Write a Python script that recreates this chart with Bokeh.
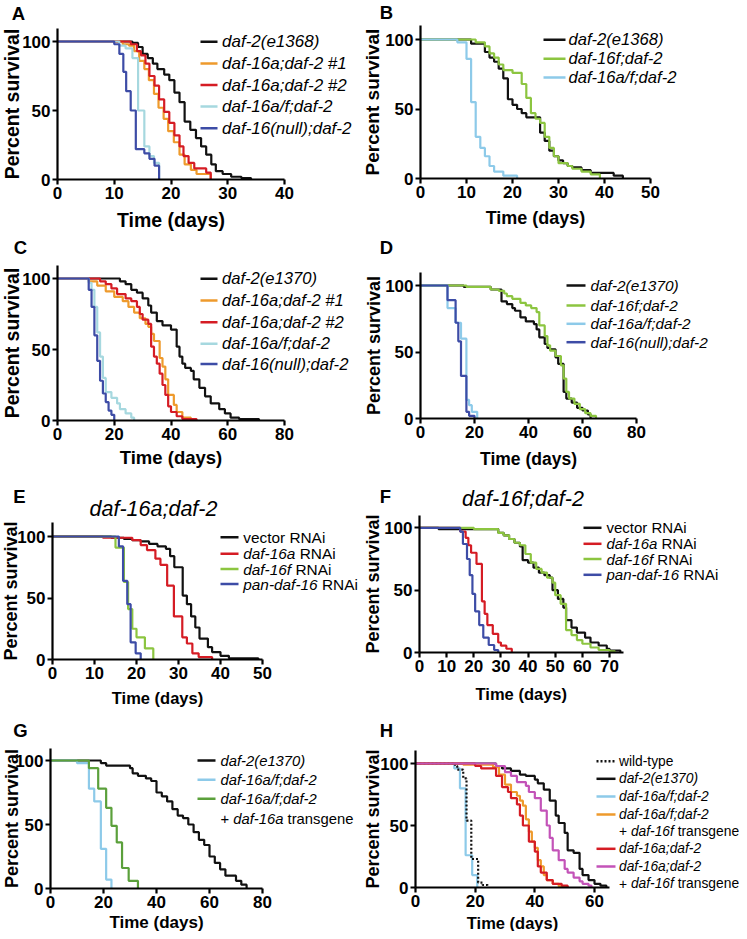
import math
from bokeh.plotting import figure
from bokeh.models import Range1d, FixedTicker, Label, LinearAxis
from bokeh.layouts import row, column
from bokeh.embed import file_html
from bokeh.resources import INLINE

FONT = "Liberation Sans"

BLACK = "#111111"
ORANGE = "#EE9A2C"
RED = "#D51C24"
PALE = "#A6D8DF"
SKY = "#8DCAE9"
NAVY = "#3D4CA6"
LIME = "#8CC540"
GREEN = "#5BA03B"
PURPLE = "#C353B8"

# ---------------- data (time in days, percent survival) ----------------
# Panel A
a_black_t = [0, 13.2, 14.2, 15.0, 15.9, 16.8, 17.6, 18.8, 19.7, 20.6, 21.5, 22.4, 23.4, 24.4, 25.3, 26.2, 27.1, 27.9, 29.1, 30.6, 32.4, 34.1]
a_black_s = [100, 99, 96, 91, 88, 84, 80, 76, 72, 63, 56, 42, 36, 30, 24, 18, 11, 6, 4, 2, 1, 0]
a_or_t = [0, 11.5, 12.6, 13.5, 14.4, 15.3, 16.1, 17.0, 17.8, 18.7, 19.5, 20.5, 21.5, 22.4, 23.5, 24.5, 27.0]
a_or_s = [100, 98, 97, 93, 86, 80, 72, 62, 52, 44, 35, 27, 18, 11, 7, 4, 0]
a_red_t = [0, 12.9, 14.0, 14.7, 15.5, 16.2, 17.1, 17.9, 18.8, 19.7, 20.6, 21.5, 22.2, 23.1, 24.1, 26.2, 27.0]
a_red_s = [100, 98, 93, 90, 84, 75, 68, 58, 49, 41, 32, 24, 17, 12, 8, 5, 0]
a_pale_t = [0, 10.9, 12.0, 13.2, 14.2, 15.3, 16.2, 17.0, 17.9]
a_pale_s = [100, 97, 95, 88, 50, 24, 17, 12, 0]
a_navy_t = [0, 10.0, 10.9, 11.6, 12.1, 12.9, 13.8, 15.3, 16.2, 17.1, 17.9]
a_navy_s = [100, 98, 91, 78, 64, 50, 22, 19, 15, 10, 0]
a_labels = ["daf-2(e1368)", "daf-16a;daf-2 #1", "daf-16a;daf-2 #2", "daf-16a/f;daf-2", "daf-16(null);daf-2"]

# Panel B
b_black_t = [0, 11, 14, 15, 16, 17, 18, 19, 20, 21, 22, 23, 26, 27, 28, 29, 30, 31, 32, 33, 35, 37, 42, 44]
b_black_s = [100, 97, 91, 87, 84, 79, 72, 57, 53, 50, 47, 44, 33, 27, 20, 16, 13, 11, 9, 8, 6, 4, 2, 0]
b_lime_t = [0, 12, 14, 15, 16, 17, 18, 20, 22, 23, 24, 25, 26, 27, 28, 29, 30, 32, 33, 35, 37, 39]
b_lime_s = [100, 98, 95, 90, 87, 82, 78, 76, 68, 58, 47, 43, 40, 30, 22, 16, 11, 9, 7, 5, 3, 0]
b_sky_t = [0, 8, 10, 11, 12, 13, 14, 15, 16, 18, 21]
b_sky_s = [100, 98, 86, 55, 30, 22, 16, 9, 5, 2, 0]
b_labels = ["daf-2(e1368)", "daf-16f;daf-2", "daf-16a/f;daf-2"]

# Panel C
c_black_t = [0, 22, 24, 26, 28, 30, 32, 33, 35, 37, 40, 42, 43, 44, 45, 47, 48, 50, 52, 54, 57, 59, 61, 64, 71]
c_black_s = [100, 98, 96, 92, 90, 86, 81, 76, 70, 67, 64, 52, 45, 40, 37, 35, 29, 23, 17, 12, 8, 5, 2, 1, 0]
c_or_t = [0, 11, 14, 17, 20, 23, 25, 27, 29, 31, 32, 33, 34, 36, 37, 38, 39, 41, 42, 44, 47]
c_or_s = [100, 98, 95, 91, 87, 84, 80, 76, 72, 68, 66, 61, 56, 44, 38, 29, 18, 11, 6, 2, 0]
c_red_t = [0, 15, 17, 19, 21, 24, 26, 28, 29, 30, 32, 33, 34, 35, 36, 37, 38, 39, 40, 42, 44, 49]
c_red_s = [100, 98, 96, 93, 89, 86, 84, 80, 75, 71, 68, 52, 45, 40, 33, 25, 18, 10, 6, 3, 1, 0]
c_pale_t = [0, 11, 12, 13, 14, 15, 16, 17, 19, 21, 22, 24, 26, 27]
c_pale_s = [100, 97, 92, 80, 62, 45, 30, 20, 16, 12, 8, 5, 2, 0]
c_navy_t = [0, 11, 12, 13, 14, 15, 16, 17, 18, 19, 20]
c_navy_s = [100, 92, 80, 60, 42, 28, 19, 13, 7, 4, 0]
c_labels = ["daf-2(e1370)", "daf-16a;daf-2 #1", "daf-16a;daf-2 #2", "daf-16a/f;daf-2", "daf-16(null);daf-2"]

# Panel D
d_black_t = [0, 16, 26, 30, 32, 34, 35, 37, 39, 42, 43, 44, 46, 47, 48, 50, 51, 53, 54, 56, 58, 60, 62, 63]
d_black_s = [100, 99, 97, 88, 86, 83, 81, 76, 73, 71, 67, 61, 56, 53, 52, 46, 41, 20, 15, 12, 8, 6, 3, 0]
d_lime_t = [0, 17, 26, 29, 31, 32, 34, 37, 39, 41, 43, 44, 46, 47, 48, 50, 52, 53, 54, 55, 57, 59, 61, 63, 65]
d_lime_s = [100, 99, 97, 96, 94, 92, 90, 87, 85, 83, 80, 70, 62, 55, 51, 47, 40, 30, 20, 15, 11, 7, 4, 2, 0]
d_sky_t = [0, 10, 13, 15, 17, 18, 19, 21]
d_sky_s = [100, 83, 72, 60, 14, 10, 5, 0]
d_navy_t = [0, 10, 13, 14, 15, 17, 18, 20]
d_navy_s = [100, 89, 72, 58, 32, 5, 2, 0]
d_labels = ["daf-2(e1370)", "daf-16f;daf-2", "daf-16a/f;daf-2", "daf-16(null);daf-2"]

# Panel E
e_black_t = [0, 14, 17, 19, 21, 23, 25, 27, 28, 29, 31, 32, 33, 34, 35, 37, 38, 40, 42, 49]
e_black_s = [100, 99, 98, 97, 96, 94, 92, 90, 84, 75, 52, 45, 35, 26, 17, 10, 6, 3, 1, 0]
e_red_t = [0, 12, 19, 21, 22.5, 24.5, 25.7, 27.3, 28.9, 30.9, 32, 33.3, 34.8, 38]
e_red_s = [100, 99, 97, 93, 89, 82, 77, 60, 35, 18, 13, 5, 2, 0]
e_lime_t = [0, 15, 17, 18, 19, 20, 22, 24]
e_lime_s = [100, 91, 63, 41, 25, 18, 9, 0]
e_navy_t = [0, 15.8, 16.8, 17.8, 18.6, 19.8, 21]
e_navy_s = [100, 92, 64, 45, 14, 5, 0]
e_title = "daf-16a;daf-2"

# Panel F
f_black_t = [0, 7, 29, 31, 33, 35, 37, 38, 40, 42, 44, 46, 48, 49, 51, 53, 54, 56, 58, 61, 63, 66, 69, 70, 74]
f_black_s = [100, 99, 96, 94, 91, 88, 85, 74, 72, 68, 64, 62, 60, 50, 43, 36, 26, 20, 16, 12, 8, 5.6, 3, 1.6, 0]
f_red_t = [0, 15, 17, 18, 19, 21, 23, 24, 25, 27, 29, 30, 32, 34]
f_red_s = [100, 97, 92, 86, 80, 71, 41, 31, 22, 15, 8, 5.5, 3, 0]
f_lime_t = [0, 20, 29, 31, 33, 35, 37, 39, 41, 43, 45, 47, 49, 50, 52, 54, 56, 58, 60, 63, 66, 70, 72]
f_lime_s = [100, 99, 96, 94, 91, 88, 86, 79, 72, 67, 64, 60, 56, 46, 39, 18, 14, 10, 7, 4, 2, 1, 0]
f_navy_t = [0, 15, 16, 17.5, 18.5, 19.5, 20.5, 22, 23.5, 25.5, 27.5, 29]
f_navy_s = [100, 97, 87, 75, 62, 47, 33, 22, 12, 6, 2, 0]
f_title = "daf-16f;daf-2"

rnai_labels = [
    [("vector RNAi", "normal")],
    [("daf-16a", "italic"), (" RNAi", "normal")],
    [("daf-16f", "italic"), (" RNAi", "normal")],
    [("pan-daf-16", "italic"), (" RNAi", "normal")],
]

# Panel G
g_black_t = [0, 19, 21, 30, 31, 33, 36, 38, 40, 42, 44, 46, 48, 50, 52, 54, 56, 58, 60, 62, 64, 66, 70, 72, 74]
g_black_s = [100, 98, 96, 94, 90, 88, 86, 84, 75, 72, 68, 62, 57, 55, 50, 44, 38, 34, 25, 20, 15, 10, 6, 3, 0]
g_sky_t = [0, 10, 14.5, 16.5, 19, 21, 23]
g_sky_s = [100, 98, 78, 68, 31, 7, 0]
g_green_t = [0, 14.5, 18, 21, 23, 25, 27, 29.5, 33]
g_green_s = [100, 94, 78, 63, 49, 36, 16, 6, 0]
g_labels = [
    [("daf-2(e1370)", "italic")],
    [("daf-16a/f;daf-2", "italic")],
    [("daf-16a/f;daf-2", "italic")],
    [("+ ", "normal"), ("daf-16a", "italic"), (" transgene", "normal")],
]

# Panel H
h_wt_t = [0, 13.3, 14.0, 16.0, 17.1, 18.7, 21.0, 22.5, 24.2]
h_wt_s = [100, 98, 95, 88, 54, 23, 4, 2, 0]
h_black_t = [0, 27, 29, 32, 35, 37, 40, 41, 43, 45, 47, 48, 50, 51, 53, 55, 56, 58, 60, 62, 64]
h_black_s = [100, 98, 96, 94, 91, 90, 87, 84, 79, 70, 58, 52, 44, 30, 28, 15, 10, 6, 3, 1.5, 0]
h_sky_t = [0, 13, 14.9, 16.8, 19, 20.7]
h_sky_s = [100, 96, 80, 26, 10, 0]
h_or_t = [0, 16, 26, 28, 30, 32, 34, 35, 36, 37, 38, 39, 40, 41, 42, 43, 44, 46, 48, 51]
h_or_s = [100, 99, 97, 91, 83, 77, 74, 70, 66, 55, 45, 37, 32, 22, 17, 10, 6, 3, 1, 0]
h_red_t = [0, 20, 22, 27, 29, 31, 32, 34, 35, 36, 38, 40, 41, 42, 44, 46, 49, 51]
h_red_s = [100, 98, 96, 90, 81, 77, 72, 67, 58, 50, 37, 29, 17, 12, 6, 3, 1.5, 0]
h_pur_t = [0, 27, 30, 32, 34, 37, 38, 40, 42, 44, 45, 46, 48, 50, 51, 53, 55, 56, 58, 59]
h_pur_s = [100, 98, 93, 90, 85, 82, 77, 72, 62, 50, 40, 30, 22, 15, 12, 8, 5, 3, 1.5, 0]
h_labels = [
    [("wild-type", "normal")],
    [("daf-2(e1370)", "italic")],
    [("daf-16a/f;daf-2", "italic")],
    [("daf-16a/f;daf-2", "italic")],
    [("+ ", "normal"), ("daf-16f", "italic"), (" transgene", "normal")],
    [("daf-16a;daf-2", "italic")],
    [("daf-16a;daf-2", "italic")],
    [("+ ", "normal"), ("daf-16f", "italic"), (" transgene", "normal")],
]

# Helvetica / Arial advance widths (per 1000 em)
CW = {' ': 278, '+': 584, '-': 333, '(': 333, ')': 333, ';': 278, '/': 278, '#': 556,
      'a': 556, 'c': 500, 'd': 556, 'e': 556, 'f': 278, 'g': 556, 'i': 222, 'l': 222,
      'n': 556, 'o': 556, 'p': 556, 'r': 333, 's': 500, 't': 278, 'u': 556, 'v': 500,
      'w': 722, 'y': 500, 'R': 722, 'N': 722, 'A': 667, 'k': 500, 'm': 833}


def text_w(s, fs):
    return sum(CW.get(ch, 556) for ch in s) * fs / 1000.0


class Panel:
    def __init__(self, cell, x0, xref, xval, y0, y100, ytop, xend, xticks):
        cx, cy, cw, ch = cell
        self.x0, self.y0 = x0, y0
        self.ppx = (xref - x0) / xval
        self.ppy = (y0 - y100) / 100.0
        x_start = -(x0 - cx) / self.ppx
        x_stop = (cx + cw - x0) / self.ppx
        y_start = -(cy + ch - y0) / self.ppy
        y_stop = (y0 - cy) / self.ppy
        ytop_val = (y0 - ytop) / self.ppy
        p = figure(width=cw, height=ch, x_range=Range1d(x_start, x_stop),
                   y_range=Range1d(y_start, y_stop),
                   x_axis_type=None, y_axis_type=None, output_backend="svg",
                   toolbar_location=None, min_border_left=0, min_border_right=0,
                   min_border_top=0, min_border_bottom=0)
        p.outline_line_color = None
        p.background_fill_color = "white"
        p.border_fill_color = "white"
        style = dict(axis_line_width=2.2, axis_line_color="black",
                     major_tick_line_width=2.2, major_tick_line_color="black",
                     major_tick_out=5, major_tick_in=0, minor_tick_line_color=None,
                     major_label_text_font=FONT, major_label_text_font_size="17px",
                     major_label_text_font_style="bold", major_label_text_color="black",
                     major_label_standoff=2, fixed_location=0)
        xa = LinearAxis(ticker=FixedTicker(ticks=xticks, minor_ticks=[]), bounds=(0, xend), **style)
        ya = LinearAxis(ticker=FixedTicker(ticks=[0, 50, 100], minor_ticks=[]), bounds=(0, ytop_val), **style)
        p.add_layout(xa, "below")
        p.add_layout(ya, "left")
        self.p = p
        self.xaxis_mid = x0 + xend * self.ppx / 2.0
        self.ymid = (ytop + y0) / 2.0

    def X(self, rx):
        return (rx - self.x0) / self.ppx

    def Y(self, ry):
        return (self.y0 - ry) / self.ppy

    def label(self, rx, ry, s, fs, style="normal", align="left", angle=0.0):
        self.p.add_layout(Label(x=self.X(rx), y=self.Y(ry), text=s, text_font=FONT,
                                text_font_size=f"{fs}px", text_font_style=style,
                                text_align=align, text_baseline="middle", angle=angle,
                                text_color="black"))

    def rich(self, rx, ry, parts, fs):
        x = rx
        for s, st in parts:
            lead = len(s) - len(s.lstrip(" "))
            x += text_w(" " * lead, fs)
            core = s.strip(" ")
            trail = len(s.lstrip(" ")) - len(core)
            self.label(x, ry, core, fs, st)
            x += text_w(core, fs) + text_w(" " * trail, fs)

    def curve(self, t, s, color, dash="solid"):
        self.p.step(t, s, mode="after", line_width=2.2, line_color=color, line_dash=dash)

    def legend(self, lx0, lx1, tx, rows_y, entries, fs):
        for ry, (parts, color, dash) in zip(rows_y, entries):
            if color is not None:
                self.p.segment(x0=[self.X(lx0)], y0=[self.Y(ry)], x1=[self.X(lx1)], y1=[self.Y(ry)],
                               line_color=color, line_width=2.5, line_dash=dash)
            self.rich(tx, ry, parts, fs)

    def decorate(self, letter, lx, ly, ylab_x, ylab_fs, time_y, time_fs):
        self.label(lx, ly, letter, 18.5, "bold", "center")
        self.label(ylab_x, self.ymid, "Percent survival", ylab_fs, "bold", "center", math.pi / 2)
        self.label(self.xaxis_mid, time_y, "Time (days)", time_fs, "bold", "center")


def it(s):
    return [(s, "italic")]


# ---------------- Panel A ----------------
A = Panel((0, 0, 360, 232), 57, 284, 40, 179, 41, 28, 40, [0, 10, 20, 30, 40])
for t, s, c in [(a_black_t, a_black_s, BLACK), (a_or_t, a_or_s, ORANGE), (a_red_t, a_red_s, RED),
                (a_pale_t, a_pale_s, PALE), (a_navy_t, a_navy_s, NAVY)]:
    A.curve(t, s, c)
A.legend(200, 217, 221.5, [41.3, 63, 84.5, 106, 127.7],
         [(it(l), c, "solid") for l, c in zip(a_labels, [BLACK, ORANGE, RED, PALE, NAVY])], 17)
A.decorate("A", 18, 12.5, 11.5, 19.5, 219, 19.5)

# ---------------- Panel B ----------------
B = Panel((360, 0, 379, 232), 420, 650, 50, 178, 39, 25, 50, [0, 10, 20, 30, 40, 50])
for t, s, c in [(b_black_t, b_black_s, BLACK), (b_lime_t, b_lime_s, LIME), (b_sky_t, b_sky_s, SKY)]:
    B.curve(t, s, c)
B.legend(543, 565, 568, [39.3, 58.3, 77],
         [(it(l), c, "solid") for l, c in zip(b_labels, [BLACK, LIME, SKY])], 16.6)
B.decorate("B", 386, 12, 372, 19, 217, 18)

# ---------------- Panel C ----------------
C = Panel((0, 232, 360, 238), 57, 284, 80, 420, 278, 265, 80, [0, 20, 40, 60, 80])
for t, s, c in [(c_black_t, c_black_s, BLACK), (c_or_t, c_or_s, ORANGE), (c_red_t, c_red_s, RED),
                (c_pale_t, c_pale_s, PALE), (c_navy_t, c_navy_s, NAVY)]:
    C.curve(t, s, c)
C.legend(200, 217, 221.5, [278.3, 300, 321.7, 343.3, 363.5],
         [(it(l), c, "solid") for l, c in zip(c_labels, [BLACK, ORANGE, RED, PALE, NAVY])], 16.6)
C.decorate("C", 20, 247, 11.5, 19.5, 457, 18.5)

# ---------------- Panel D ----------------
D = Panel((360, 232, 379, 238), 420, 636, 80, 418, 285, 272, 80, [0, 20, 40, 60, 80])
for t, s, c in [(d_black_t, d_black_s, BLACK), (d_lime_t, d_lime_s, LIME), (d_sky_t, d_sky_s, SKY),
                (d_navy_t, d_navy_s, NAVY)]:
    D.curve(t, s, c)
D.legend(566, 585, 590, [285, 305, 323.3, 341.7],
         [(it(l), c, "solid") for l, c in zip(d_labels, [BLACK, LIME, SKY, NAVY])], 15.4)
D.decorate("D", 386, 247, 373, 18, 458, 17.5)

# ---------------- Panel E ----------------
E = Panel((0, 470, 360, 238), 52, 262, 50, 659, 536, 522, 50, [0, 10, 20, 30, 40, 50])
for t, s, c in [(e_black_t, e_black_s, BLACK), (e_red_t, e_red_s, RED), (e_lime_t, e_lime_s, LIME),
                (e_navy_t, e_navy_s, NAVY)]:
    E.curve(t, s, c)
E.legend(220, 238, 242.7, [536.7, 553.3, 568.5, 583.5],
         [(l, c, "solid") for l, c in zip(rnai_labels, [BLACK, RED, LIME, NAVY])], 15.4)
E.decorate("E", 19, 496, 10.5, 18, 697, 16.5)
E.label(153, 508, e_title, 21.5, "italic", "center")

# ---------------- Panel F ----------------
F = Panel((360, 470, 379, 238), 419, 609, 70, 652, 527.3, 515, 75, [0, 10, 20, 30, 40, 50, 60, 70])
for t, s, c in [(f_black_t, f_black_s, BLACK), (f_red_t, f_red_s, RED), (f_lime_t, f_lime_s, LIME),
                (f_navy_t, f_navy_s, NAVY)]:
    F.curve(t, s, c)
F.legend(583, 601, 606, [527.3, 543.3, 558.5, 574.3],
         [(l, c, "solid") for l, c in zip(rnai_labels, [BLACK, RED, LIME, NAVY])], 15)
F.decorate("F", 385, 496, 372, 18, 693, 16.5)
F.label(522.5, 498, f_title, 21.5, "italic", "center")

# ---------------- Panel G ----------------
G = Panel((0, 708, 360, 223), 50, 262, 80, 888, 760, 748, 80, [0, 20, 40, 60, 80])
for t, s, c in [(g_black_t, g_black_s, BLACK), (g_sky_t, g_sky_s, SKY), (g_green_t, g_green_s, GREEN)]:
    G.curve(t, s, c)
G.legend(197, 215, 220, [760, 779.3, 798.3, 818.3],
         [(l, c, "solid") for l, c in zip(g_labels, [BLACK, SKY, GREEN, None])], 14.8)
G.decorate("G", 20, 730, 11, 18, 922, 17)

# ---------------- Panel H ----------------
H = Panel((360, 708, 379, 223), 415, 594, 60, 887, 763, 750, 65, [0, 20, 40, 60])
H.curve(h_sky_t, h_sky_s, SKY)
H.curve(h_wt_t, h_wt_s, BLACK, "2 2")
for t, s, c in [(h_black_t, h_black_s, BLACK), (h_or_t, h_or_s, ORANGE), (h_red_t, h_red_s, RED),
                (h_pur_t, h_pur_s, PURPLE)]:
    H.curve(t, s, c)
h_colors = [BLACK, BLACK, SKY, ORANGE, None, RED, PURPLE, None]
h_dashes = ["2 2", "solid", "solid", "solid", "solid", "solid", "solid", "solid"]
H.legend(596, 615, 618.5, [760.7, 778.3, 796, 814, 830.7, 848.3, 866, 883.3],
         [(l, c, d) for l, c, d in zip(h_labels, h_colors, h_dashes)], 13.8)
H.decorate("H", 386, 730, 372, 18, 922, 16.5)

layout = column(row(A.p, B.p), row(C.p, D.p), row(E.p, F.p), row(G.p, H.p))
open("out.html", "w").write(file_html(layout, INLINE))
